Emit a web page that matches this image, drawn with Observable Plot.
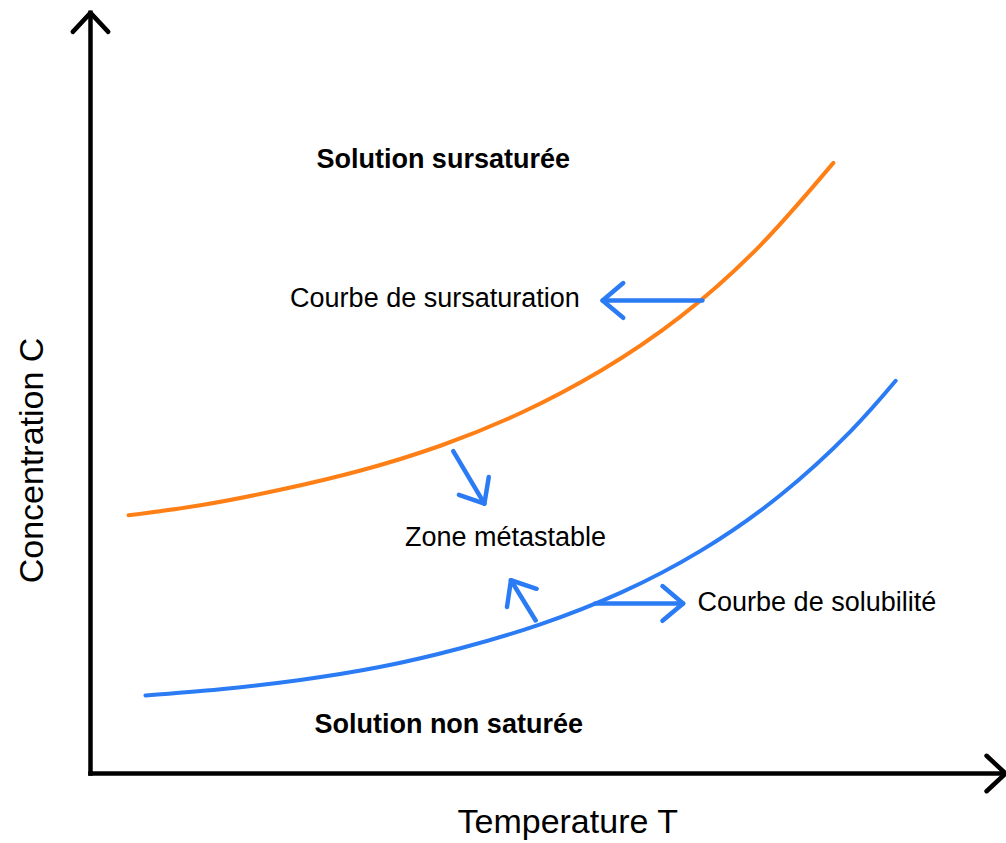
<!DOCTYPE html>
<html>
<head>
<meta charset="utf-8">
<script src="https://cdn.jsdelivr.net/npm/d3@7"></script>
<script src="https://cdn.jsdelivr.net/npm/@observablehq/plot@0.6"></script>
<style>
  html, body { margin: 0; padding: 0; background: #fff; }
  #chart svg { display: block; }
</style>
</head>
<body>
<div id="chart"></div>
<script>
// ---- Data (T = temperature, C = concentration, arbitrary units 0..100) ----
const orangeT = [4.15, 12.0, 20.7, 29.5, 38.2, 46.9, 55.7, 64.4, 73.1, 81.1];
const orangeC = [33.4, 34.7, 36.7, 39.2, 42.4, 46.6, 52.1, 59.1, 68.3, 79.0];

const blueT = [6.0, 14.2, 22.9, 31.7, 40.4, 49.1, 57.9, 66.6, 75.3, 83.0, 87.9];
const blueC = [10.1, 10.9, 12.1, 13.8, 16.2, 19.3, 23.4, 28.8, 36.0, 44.3, 50.8];

// arrows: tail (T0,C0) -> tip (T1,C1)
const arrowName = ["sursaturation", "versMetastable", "depuisSolubilite", "solubilite"];
const arrowT0 = [66.8, 39.6, 48.6, 55.1];
const arrowC0 = [61.2, 41.7, 19.8, 22.0];
const arrowT1 = [55.9, 43.0, 45.9, 64.7];
const arrowC1 = [61.2, 34.9, 25.0, 22.0];

// axes: origin -> tip
const axisName = ["T", "C"];
const axisT1 = [99.9, 0];
const axisC1 = [0, 98.4];

// labels
const labelText = ["Solution sursaturée", "Courbe de sursaturation", "Zone métastable", "Courbe de solubilité", "Solution non saturée"];
const labelT = [38.5, 37.6, 45.3, 79.3, 39.1];
const labelC = [78.3, 60.4, 29.4, 21.0, 5.2];
const labelBold = [true, false, false, false, true];

const axisTitleX = "Temperature T";
const axisTitleY = "Concentration C";

// ---- Layout ----
const W = 1006, H = 843, ML = 90, MR = 0, MT = 0, MB = 70;
const ORANGE = "#ff7f17", BLUE = "#2b7cf4";
const FONT = "'Liberation Sans', Arial, Helvetica, sans-serif";

const xs = d3.scaleLinear([0, 100], [ML, W - MR]);
const ys = d3.scaleLinear([0, 100], [H - MB, MT]);

// arrow head polyline (wing, tip, wing), computed in pixel space then mapped back
function head(id, x1, y1, x2, y2, len, angDeg) {
  const px1 = xs(x1), py1 = ys(y1), px2 = xs(x2), py2 = ys(y2);
  const dx = px1 - px2, dy = py1 - py2, L = Math.hypot(dx, dy);
  const ux = dx / L, uy = dy / L, a = angDeg * Math.PI / 180;
  const w = (s) => [ux * Math.cos(s * a) - uy * Math.sin(s * a), ux * Math.sin(s * a) + uy * Math.cos(s * a)];
  const [ax, ay] = w(1), [bx, by] = w(-1);
  return [
    {id, x: xs.invert(px2 + ax * len), y: ys.invert(py2 + ay * len)},
    {id, x: x2, y: y2},
    {id, x: xs.invert(px2 + bx * len), y: ys.invert(py2 + by * len)}
  ];
}

const orange = orangeT.map((t, i) => ({t, c: orangeC[i]}));
const blue = blueT.map((t, i) => ({t, c: blueC[i]}));
const arrows = arrowName.map((n, i) => ({n, x1: arrowT0[i], y1: arrowC0[i], x2: arrowT1[i], y2: arrowC1[i]}));
const axes = axisName.map((n, i) => ({n, x1: 0, y1: 0, x2: axisT1[i], y2: axisC1[i]}));
const arrowHeads = arrows.flatMap(a => head(a.n, a.x1, a.y1, a.x2, a.y2, 27, 40));
const axisHeads = axes.flatMap(a => head(a.n, a.x1, a.y1, a.x2, a.y2, 26, 43));
const labels = labelText.map((s, i) => ({s, t: labelT[i], c: labelC[i], b: labelBold[i]}));

const chart = Plot.plot({
  width: W, height: H,
  marginLeft: ML, marginRight: MR, marginTop: MT, marginBottom: MB,
  x: {domain: [0, 100], axis: null},
  y: {domain: [0, 100], axis: null},
  style: {background: "#fff", overflow: "visible", fontFamily: FONT},
  marks: [
    // axes
    Plot.link(axes, {x1: "x1", y1: "y1", x2: "x2", y2: "y2", stroke: "#000", strokeWidth: 4.5, strokeLinecap: "square"}),
    Plot.line(axisHeads, {x: "x", y: "y", z: "id", stroke: "#000", strokeWidth: 4.5, strokeLinecap: "round", strokeLinejoin: "round"}),
    // curves
    Plot.line(orange, {x: "t", y: "c", stroke: ORANGE, strokeWidth: 4, curve: "natural"}),
    Plot.line(blue, {x: "t", y: "c", stroke: BLUE, strokeWidth: 4, curve: "natural"}),
    // arrows
    Plot.link(arrows, {x1: "x1", y1: "y1", x2: "x2", y2: "y2", stroke: BLUE, strokeWidth: 4.5, strokeLinecap: "round"}),
    Plot.line(arrowHeads, {x: "x", y: "y", z: "id", stroke: BLUE, strokeWidth: 4.5, strokeLinecap: "round", strokeLinejoin: "round"}),
    // labels
    Plot.text(labels.filter(d => d.b), {x: "t", y: "c", text: "s", fontSize: 27, fontWeight: "bold", fill: "#000", lineAnchor: "bottom", textAnchor: "middle"}),
    Plot.text(labels.filter(d => !d.b), {x: "t", y: "c", text: "s", fontSize: 27, fill: "#000", lineAnchor: "bottom", textAnchor: "middle"}),
    // axis titles
    Plot.text([axisTitleX], {x: 52.1, y: -7.76, text: d => d, fontSize: 34, fill: "#000", lineAnchor: "bottom", textAnchor: "middle"}),
    Plot.text([axisTitleY], {x: -5.24, y: 40.5, text: d => d, fontSize: 34, fill: "#000", rotate: -90, lineAnchor: "bottom", textAnchor: "middle"})
  ]
});
document.getElementById("chart").appendChild(chart);
</script>
</body>
</html>
